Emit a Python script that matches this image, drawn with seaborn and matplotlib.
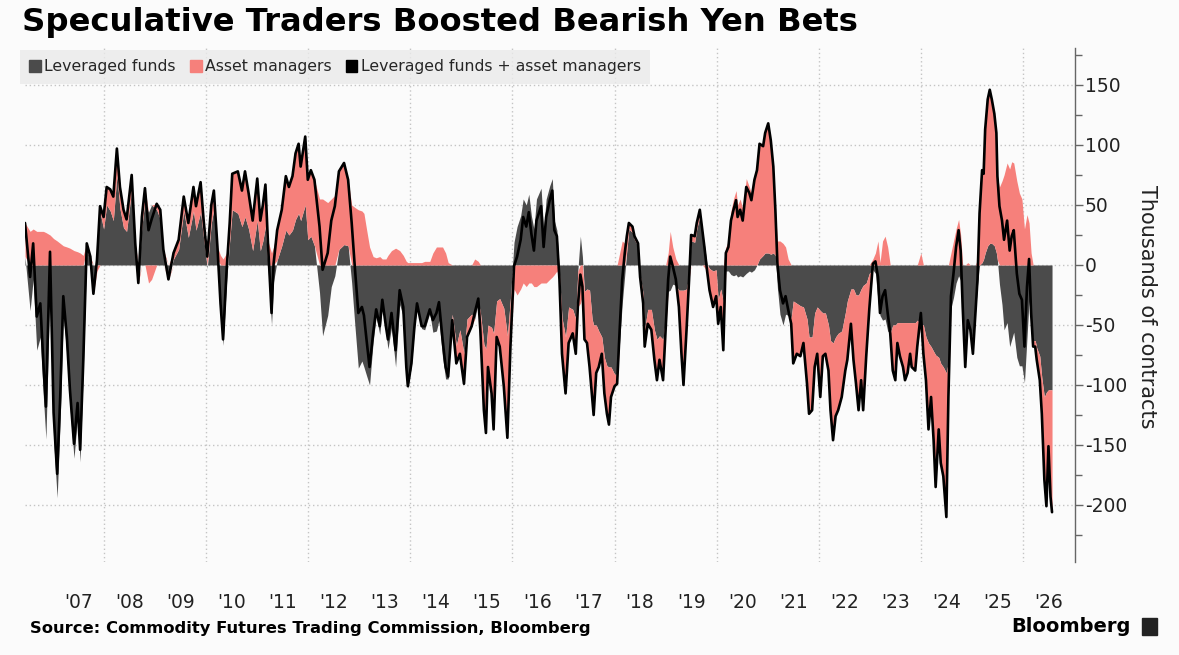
import numpy as np
import pandas as pd
import matplotlib
matplotlib.use('Agg')
import matplotlib.pyplot as plt
import seaborn as sns
from matplotlib.patches import Patch, Rectangle

# CFTC yen positioning, thousands of contracts
years = [
    2006.45, 2006.55, 2006.61, 2006.68, 2006.75, 2006.81, 2006.86, 2006.94, 2007.01, 2007.08,
    2007.14, 2007.20, 2007.27, 2007.33, 2007.41, 2007.48, 2007.53, 2007.59, 2007.66, 2007.73,
    2007.79, 2007.86, 2007.92, 2007.99, 2008.05, 2008.12, 2008.18, 2008.25, 2008.31, 2008.38,
    2008.44, 2008.54, 2008.61, 2008.67, 2008.74, 2008.80, 2008.87, 2008.93, 2009.03, 2009.10,
    2009.16, 2009.26, 2009.36, 2009.46, 2009.56, 2009.65, 2009.75, 2009.80, 2009.89, 2009.95,
    2010.02, 2010.10, 2010.15, 2010.22, 2010.28, 2010.33, 2010.40, 2010.46, 2010.51, 2010.62,
    2010.70, 2010.76, 2010.83, 2010.91, 2011.00, 2011.06, 2011.11, 2011.16, 2011.21, 2011.28,
    2011.32, 2011.39, 2011.48, 2011.56, 2011.62, 2011.69, 2011.75, 2011.81, 2011.85, 2011.94,
    2011.99, 2012.05, 2012.12, 2012.22, 2012.28, 2012.38, 2012.45, 2012.52, 2012.60, 2012.70,
    2012.78, 2012.85, 2012.91, 2012.98, 2013.05, 2013.09, 2013.14, 2013.20, 2013.27, 2013.33,
    2013.40, 2013.45, 2013.52, 2013.56, 2013.63, 2013.71, 2013.79, 2013.86, 2013.92, 2013.95,
    2014.02, 2014.08, 2014.13, 2014.22, 2014.28, 2014.38, 2014.44, 2014.51, 2014.56, 2014.63,
    2014.69, 2014.74, 2014.82, 2014.90, 2014.97, 2015.05, 2015.11, 2015.20, 2015.26, 2015.33,
    2015.37, 2015.44, 2015.48, 2015.52, 2015.59, 2015.63, 2015.69, 2015.75, 2015.83, 2015.90,
    2015.96, 2016.03, 2016.09, 2016.16, 2016.21, 2016.27, 2016.32, 2016.37, 2016.42, 2016.47,
    2016.56, 2016.61, 2016.66, 2016.73, 2016.78, 2016.82, 2016.87, 2016.92, 2016.97, 2017.04,
    2017.10, 2017.18, 2017.24, 2017.28, 2017.33, 2017.37, 2017.41, 2017.46, 2017.51, 2017.56,
    2017.59, 2017.64, 2017.69, 2017.75, 2017.80, 2017.85, 2017.89, 2017.93, 2018.00, 2018.05,
    2018.10, 2018.15, 2018.20, 2018.24, 2018.28, 2018.35, 2018.39, 2018.46, 2018.50, 2018.56,
    2018.59, 2018.65, 2018.72, 2018.78, 2018.83, 2018.88, 2018.95, 2019.00, 2019.05, 2019.09,
    2019.14, 2019.20, 2019.26, 2019.31, 2019.35, 2019.41, 2019.46, 2019.50, 2019.57, 2019.61,
    2019.67, 2019.72, 2019.76, 2019.81, 2019.86, 2019.93, 2019.99, 2020.03, 2020.08, 2020.13,
    2020.18, 2020.23, 2020.28, 2020.33, 2020.38, 2020.41, 2020.46, 2020.51, 2020.58, 2020.64,
    2020.68, 2020.74, 2020.79, 2020.84, 2020.91, 2020.95, 2021.01, 2021.06, 2021.11, 2021.15,
    2021.19, 2021.24, 2021.30, 2021.35, 2021.40, 2021.46, 2021.50, 2021.57, 2021.64, 2021.70,
    2021.77, 2021.81, 2021.87, 2021.92, 2021.97, 2022.03, 2022.08, 2022.13, 2022.19, 2022.23,
    2022.28, 2022.33, 2022.38, 2022.45, 2022.52, 2022.56, 2022.63, 2022.68, 2022.73, 2022.78,
    2022.83, 2022.87, 2022.93, 2022.99, 2023.06, 2023.11, 2023.16, 2023.20, 2023.25, 2023.30,
    2023.35, 2023.40, 2023.45, 2023.50, 2023.54, 2023.59, 2023.65, 2023.69, 2023.74, 2023.79,
    2023.82, 2023.89, 2023.93, 2024.00, 2024.05, 2024.10, 2024.15, 2024.20, 2024.25, 2024.29,
    2024.35, 2024.39, 2024.44, 2024.50, 2024.54, 2024.59, 2024.64, 2024.69, 2024.74, 2024.78,
    2024.82, 2024.87, 2024.92, 2024.97, 2025.02, 2025.07, 2025.11, 2025.15, 2025.20, 2025.23,
    2025.26, 2025.31, 2025.35, 2025.39, 2025.44, 2025.48, 2025.50, 2025.54, 2025.59, 2025.63,
    2025.69, 2025.74, 2025.78, 2025.82, 2025.88, 2025.93, 2025.98, 2026.03, 2026.08, 2026.12,
    2026.16, 2026.20, 2026.24, 2026.27, 2026.33, 2026.37, 2026.42, 2026.46, 2026.50, 2026.54,
    2026.57,
]

leveraged = [
    7, -38, -12, -71, -60, -110, -145, -14, -145, -194,
    -128, -42, -75, -118, -161, -126, -164, -90, 13, 4,
    -17, 9, 44, 30, 50, 45, 37, 75, 47, 31,
    28, 63, 13, -12, 32, 54, 44, 50, 46, 38,
    10, -10, 5, 13, 45, 23, 45, 29, 44, 22,
    -3, 35, 47, 5, -40, -67, -14, 20, 46, 43,
    32, 40, 30, 12, 37, 12, 20, 32, -2, -50,
    -14, 4, 16, 29, 25, 29, 38, 43, 37, 50,
    21, 24, 16, -23, -59, -42, -18, -9, 13, 17,
    16, -15, -49, -86, -80, -85, -92, -100, -64, -43,
    -58, -34, -56, -70, -52, -85, -33, -43, -88, -103,
    -84, -53, -34, -53, -54, -40, -56, -55, -46, -77,
    -95, -95, -41, -67, -54, -74, -45, -41, -45, -31,
    -39, -66, -70, -50, -52, -57, -30, -28, -36, -59,
    -28, 19, 32, 41, 55, 50, 59, 41, 30, 55,
    64, 30, 55, 66, 72, 37, 29, -7, -44, -60,
    -35, -37, -45, -5, 24, 7, -22, -20, -21, -45,
    -50, -50, -55, -60, -77, -84, -85, -85, -91, -91,
    -64, -32, -8, 12, 30, 27, 21, 16, -8, -24,
    -53, -37, -37, -54, -62, -59, -62, -44, -22, -21,
    -16, -17, -21, -21, -21, -20, -7, 20, 19, 30,
    41, 26, 17, 1, -3, -5, -4, -29, -20, -31,
    -5, -5, -8, -9, -8, -10, -9, -10, -7, -5,
    -6, -4, 0, 5, 8, 10, 10, 9, 10, 8,
    -19, -41, -50, -41, -42, -44, -30, -32, -34, -35,
    -45, -60, -60, -40, -35, -38, -40, -40, -50, -63,
    -65, -60, -57, -55, -40, -30, -20, -20, -25, -25,
    -20, -17, -15, -7, -4, -7, -30, -42, -46, -45,
    -55, -57, -50, -50, -48, -48, -48, -48, -48, -48,
    -48, -48, -46, -50, -50, -60, -65, -68, -72, -75,
    -77, -82, -85, -90, -80, -36, -27, -15, -9, -13,
    -35, -70, -48, -54, -64, -40, -17, 0, 2, 5,
    10, 16, 18, 18, 16, 10, 4, -16, -33, -54,
    -48, -68, -62, -56, -77, -84, -84, -98, -60, -30,
    -50, -63, -63, -69, -76, -94, -110, -106, -104, -104,
    -104,
]

asset_managers = [
    28, 28, 30, 28, 28, 28, 27, 25, 22, 20,
    18, 16, 15, 14, 12, 11, 10, 8, 5, 3,
    -7, -5, 5, 10, 15, 18, 20, 22, 18, 15,
    10, 12, 5, -3, 8, 10, -15, -12, 5, 8,
    3, -2, 5, 8, 12, 12, 20, 20, 25, 15,
    10, 15, 15, 10, 8, 5, 10, 15, 30, 35,
    30, 38, 30, 25, 35, 25, 30, 35, 20, 10,
    15, 25, 30, 45, 40, 45, 55, 58, 45, 57,
    50, 55, 55, 55, 55, 52, 55, 58, 65, 68,
    55, 50, 48, 46, 45, 43, 30, 15, 7, 6,
    7, 5, 5, 8, 12, 14, 12, 8, 3, 2,
    2, 2, 2, 2, 3, 3, 10, 15, 15, 15,
    10, 2, -5, -15, -20, -25, -15, -10, 5, 3,
    -15, -55, -70, -35, -55, -80, -30, -40, -65, -85,
    -40, -20, -25, -20, -15, -18, -15, -15, -18, -18,
    -15, -15, -15, -12, -10, -8, -5, -5, -30, -47,
    -30, -20, -29, -30, -32, -25, -40, -45, -64, -65,
    -75, -40, -30, -14, -30, -40, -48, -25, -10, -8,
    10, 20, 18, 12, 5, 5, 3, 2, -2, -8,
    -15, -12, -17, -25, -34, -20, -34, -10, 10, 28,
    15, 5, -14, -53, -79, -34, -5, 5, 5, 5,
    5, 3, -2, -5, -18, -30, -22, -20, -15, -40,
    15, 20, 45, 55, 62, 50, 55, 47, 72, 65,
    60, 75, 79, 96, 91, 100, 108, 95, 72, 38,
    20, 20, 18, 15, 5, -5, -52, -42, -42, -30,
    -54, -64, -61, -45, -39, -72, -36, -34, -38, -58,
    -81, -66, -64, -55, -48, -49, -29, -59, -74, -96,
    -76, -104, -61, -30, 5, 10, 20, 2, 20, 24,
    15, 0, -38, -46, -17, -28, -37, -48, -42, -26,
    -37, -40, -22, 10, -24, -36, -72, -42, -74, -110,
    -60, -83, -91, -120, -30, 10, 20, 30, 38, 25,
    0, -15, 2, 0, -10, 0, 5, 43, 77, 71,
    103, 122, 128, 120, 110, 100, 70, 65, 70, 75,
    85, 80, 86, 85, 70, 60, 55, 30, 42, 35,
    10, -5, -5, -10, -20, -30, -69, -95, -47, -89,
    -102,
]

year_labels = ["'%02d" % (y % 100) for y in range(2007, 2027)]
y_ticks = [-200, -150, -100, -50, 0, 50, 100, 150]

GRAY = '#4b4b4b'
PINK = '#f6807b'
BG = '#fbfbfb'

df = pd.DataFrame({'year': years, 'leveraged': leveraged, 'asset': asset_managers})
df['total'] = df['leveraged'] + df['asset']

sns.set_theme(style='white')
plt.rcParams['font.family'] = ['DejaVu Sans']
plt.rcParams['axes.unicode_minus'] = False

fig = plt.figure(figsize=(11.79, 6.55), dpi=100, facecolor=BG)
ax = fig.add_axes([25 / 1179, 1 - 562 / 655, 1050 / 1179, 514 / 655])
ax.set_facecolor(BG)

t = df['year'].to_numpy()
lev = df['leveraged'].to_numpy(dtype=float)
am = df['asset'].to_numpy(dtype=float)
lpos = np.clip(lev, 0, None)
lneg = np.clip(lev, None, 0)

# positive parts stack upwards, negative parts stack downwards
ax.fill_between(t, 0, lev, color=GRAY, lw=0, zorder=2)
ax.fill_between(t, lpos, lpos + np.clip(am, 0, None), color=PINK, lw=0, zorder=2)
ax.fill_between(t, lneg, lneg + np.clip(am, None, 0), color=PINK, lw=0, zorder=2)
sns.lineplot(data=df, x='year', y='total', color='black', lw=1.9, ax=ax,
             estimator=None, legend=False, zorder=3)

ax.set_xlim(2006.45, 2027.02)
ax.set_ylim(-247.5, 180.8)

# x: labels at mid-year, dotted grid every two years
ax.set_xticks([y + 0.5 for y in range(2007, 2027)])
ax.set_xticklabels(year_labels)
ax.set_xticks(list(range(2008, 2027, 2)), minor=True)
ax.tick_params(axis='x', which='both', length=0, labelsize=13.5, pad=22, colors='#222222')

ax.yaxis.tick_right()
ax.set_yticks(y_ticks)
ax.set_yticks(list(range(-225, 180, 50)), minor=True)
ax.tick_params(axis='y', which='major', direction='out', length=6, width=1,
               color='#666666', labelsize=13.5, pad=1, labelcolor='#222222')
ax.tick_params(axis='y', which='minor', direction='out', length=5, width=1, color='#666666')
ax.set_xlabel('')
ax.set_ylabel('')

ax.grid(False)
ax.grid(which='minor', axis='x', ls=(0, (1, 2)), color='#c4c4c4', lw=1, zorder=0)
ax.grid(which='major', axis='y', ls=(0, (1, 2)), color='#c4c4c4', lw=1, zorder=0)

for side in ['top', 'left', 'bottom']:
    ax.spines[side].set_visible(False)
ax.spines['right'].set_color('#666666')
ax.spines['right'].set_linewidth(1)

handles = [Patch(color=GRAY, label='Leveraged funds'),
           Patch(color=PINK, label='Asset managers'),
           Patch(color='black', label='Leveraged funds + asset managers')]
leg = fig.legend(handles=handles, loc='upper left', bbox_to_anchor=(20 / 1179, 1 - 50 / 655),
                 ncol=3, frameon=True, fancybox=False, facecolor='#eaeaea', edgecolor='#eaeaea',
                 fontsize=11.3, handlelength=0.75, handleheight=0.8, handletextpad=0.2,
                 columnspacing=0.9, borderpad=0.6, borderaxespad=0)
leg.get_frame().set_linewidth(0)

fig.text(22 / 1179, 1 - 22 / 655, 'Speculative Traders Boosted Bearish Yen Bets',
         fontsize=23.2, fontweight='bold', ha='left', va='center', color='black')
fig.text(1147 / 1179, 1 - 307 / 655, 'Thousands of contracts', rotation=270,
         fontsize=15, ha='center', va='center', color='#222222')
fig.text(30 / 1179, 1 - 628 / 655, 'Source: Commodity Futures Trading Commission, Bloomberg',
         fontsize=11.75, fontweight='bold', ha='left', va='center', color='black')
fig.text(1131 / 1179, 1 - 626 / 655, 'Bloomberg', fontsize=14, fontweight='bold',
         ha='right', va='center', color='black')
fig.patches.append(Rectangle((1142 / 1179, 1 - 635 / 655), 15 / 1179, 17 / 655,
                             transform=fig.transFigure, color='#222222'))

fig.savefig('out.png', dpi=100, facecolor=BG)
